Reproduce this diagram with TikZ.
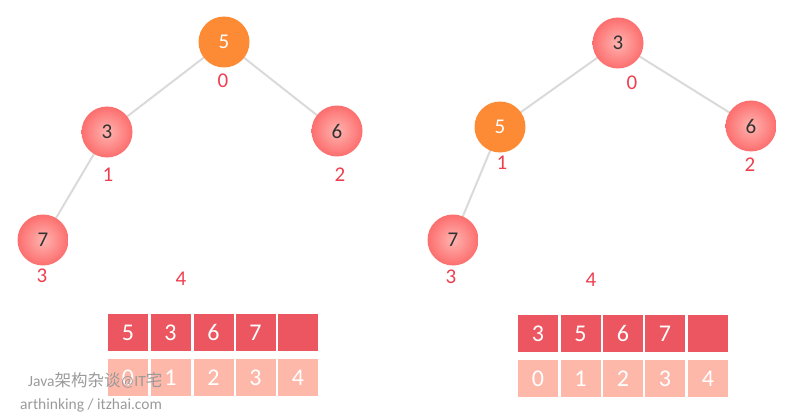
\documentclass[tikz,border=0pt]{standalone}
\usepackage{fontspec}
\setmainfont{Carlito}
\newfontfamily\cjk{Noto Sans CJK SC}
\definecolor{edgegray}{HTML}{DADADA}
\definecolor{orangefill}{HTML}{FD8A35}
\definecolor{pinkin}{HTML}{FFB4B0}
\definecolor{pinkout}{HTML}{FC6E6E}
\definecolor{idxred}{HTML}{EE3F4F}
\definecolor{toprow}{HTML}{EC5660}
\definecolor{botrow}{HTML}{FDB8AA}
\definecolor{wmgray}{HTML}{9A9A9A}
\tikzset{
  heapnode/.style={circle, minimum size=51pt, inner sep=0pt, inner color=pinkin, outer color=pinkout, text=black!80, font=\fontsize{21}{21}\selectfont},
  curnode/.style={circle, minimum size=51pt, inner sep=0pt, fill=orangefill, text=white, font=\fontsize{21}{21}\selectfont},
  idx/.style={text=idxred, font=\fontsize{21}{21}\selectfont, inner sep=0pt},
  tedge/.style={draw=edgegray, line width=2pt},
  topcell/.style={fill=toprow, minimum width=40pt, minimum height=37pt, inner sep=0pt, text=white, font=\fontsize{24}{24}\selectfont},
  botcell/.style={fill=botrow, minimum width=40pt, minimum height=37pt, inner sep=0pt, text=white, font=\fontsize{24}{24}\selectfont},
  wm/.style={text=wmgray, font=\fontsize{15.5}{15.5}\selectfont, inner sep=0pt, anchor=west}
}
\begin{document}
\begin{tikzpicture}[x=1pt,y=-1pt]
\useasboundingbox (0,0) rectangle (800,417);
% edges drawn under nodes via coordinates
\coordinate (cla) at (224,42);
\coordinate (clb) at (107,132);
\coordinate (clc) at (337,131);
\coordinate (cld) at (43,240);
\coordinate (cra) at (618,43);
\coordinate (crb) at (500,127);
\coordinate (crc) at (751,126);
\coordinate (crd) at (453,240);
\draw[tedge] (cla) -- (clb);
\draw[tedge] (cla) -- (clc);
\draw[tedge] (clb) -- (cld);
\draw[tedge] (cra) -- (crb);
\draw[tedge] (cra) -- (crc);
\draw[tedge] (crb) -- (crd);
% left tree
\node[curnode] (la) at (cla) {5};
\node[heapnode] (lb) at (clb) {3};
\node[heapnode] (lc) at (clc) {6};
\node[heapnode] (ld) at (cld) {7};
\node[idx] (li0) at (223,81) {0};
\node[idx] (li1) at (108,175) {1};
\node[idx] (li2) at (340,175) {2};
\node[idx] (li3) at (42,276) {3};
\node[idx] (li4) at (181,279) {4};
% right tree
\node[heapnode] (ra) at (cra) {3};
\node[curnode] (rb) at (crb) {5};
\node[heapnode] (rc) at (crc) {6};
\node[heapnode] (rd) at (crd) {7};
\node[idx] (ri0) at (632,83) {0};
\node[idx] (ri1) at (502,163) {1};
\node[idx] (ri2) at (750,165) {2};
\node[idx] (ri3) at (451,277) {3};
\node[idx] (ri4) at (591,280) {4};
% left array
\node[topcell] (lt0) at (128,332.5) {5};
\node[topcell] (lt1) at (170.5,332.5) {3};
\node[topcell] (lt2) at (213.5,332.5) {6};
\node[topcell] (lt3) at (255.5,332.5) {7};
\node[topcell] (lt4) at (298,332.5) {};
\node[botcell] (lb0) at (128,377.5) {0};
\node[botcell] (lb1) at (170.5,377.5) {1};
\node[botcell] (lb2) at (213.5,377.5) {2};
\node[botcell] (lb3) at (255.5,377.5) {3};
\node[botcell] (lb4) at (298,377.5) {4};
% right array
\node[topcell] (rt0) at (538,333.5) {3};
\node[topcell] (rt1) at (580.5,333.5) {5};
\node[topcell] (rt2) at (623,333.5) {6};
\node[topcell] (rt3) at (665,333.5) {7};
\node[topcell] (rt4) at (708,333.5) {};
\node[botcell] (rb0) at (538,378.5) {0};
\node[botcell] (rb1) at (580.5,378.5) {1};
\node[botcell] (rb2) at (623,378.5) {2};
\node[botcell] (rb3) at (665,378.5) {3};
\node[botcell] (rb4) at (708,378.5) {4};
% watermark
\node[wm] (w1) at (28,380) {Java{\cjk\fontsize{16.5}{16.5}\selectfont 架构杂谈}@IT{\cjk\fontsize{16.5}{16.5}\selectfont 宅}};
\node[wm] (w2) at (20,405) {arthinking / itzhai.com};
\end{tikzpicture}
\end{document}
